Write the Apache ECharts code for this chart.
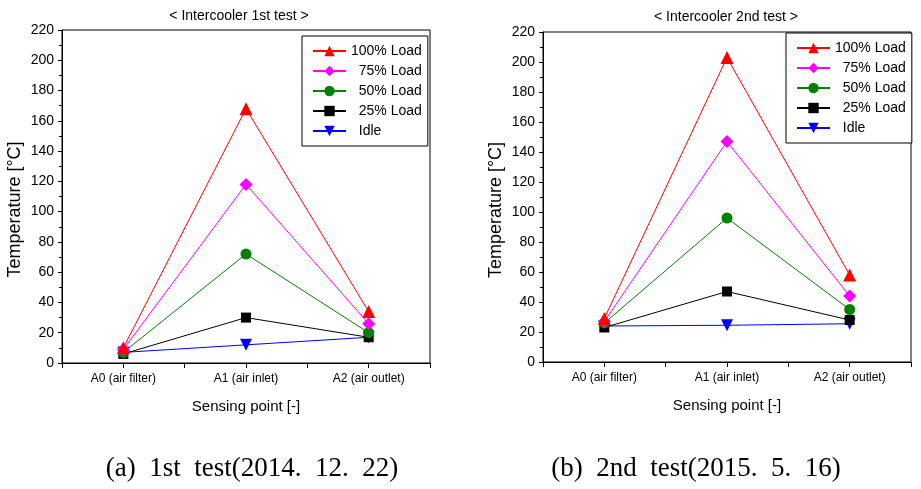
<!DOCTYPE html>
<html>
<head>
<meta charset="utf-8">
<script src="https://cdn.jsdelivr.net/npm/echarts@6/dist/echarts.min.js"></script>
<style>
html,body{margin:0;padding:0;background:#fff;}
#chart{width:921px;height:489px;}
</style>
</head>
<body>
<div id="chart"></div>
<script>
// ---- data ----
const categories = ['A0 (air filter)', 'A1 (air inlet)', 'A2 (air outlet)'];
const seriesNames = ['100% Load', '75% Load', '50% Load', '25% Load', 'Idle'];
const yTicks = { min: 0, max: 220, interval: 20 };

// 1st test (2014.12.22)
const test1Load100 = [10, 168, 34];
const test1Load75  = [9, 118, 26];
const test1Load50  = [7, 72, 20];
const test1Load25  = [6, 30, 17];
const test1Idle    = [7, 12, 17];

// 2nd test (2015.5.16)
const test2Load100 = [29, 203, 58];
const test2Load75  = [27, 147, 44];
const test2Load50  = [26, 96, 35];
const test2Load25  = [23, 47, 28];
const test2Idle    = [24, 24.5, 25.5];

const chartTitles = ['< Intercooler 1st test >', '< Intercooler 2nd test >'];
const captions = ['(a)  1st  test(2014.  12.  22)', '(b)  2nd  test(2015.  5.  16)'];

// ---- styles ----
const FONT = '"Liberation Sans", Arial, sans-serif';
const SERIF = '"Liberation Serif", "DejaVu Serif", serif';
const styles = [
  { color: '#ff0000', symbol: 'triangle', size: 13, rotate: 0, z: 7 },
  { color: '#ff00ff', symbol: 'diamond', size: 13, rotate: 0, z: 6 },
  { color: '#008000', symbol: 'circle', size: 11, rotate: 0, z: 5 },
  { color: '#000000', symbol: 'rect', size: 10, rotate: 0, z: 4 },
  { color: '#0000ff', symbol: 'triangle', size: 12, rotate: 180, z: 3 }
];

const grids = [
  { left: 62, top: 30, width: 368, height: 333 },
  { left: 543, top: 32, width: 368, height: 330 }
];

function xAxesFor(g) {
  return [
    {
      type: 'category', gridIndex: g, data: categories, boundaryGap: true, position: 'bottom',
      axisLine: { show: true, lineStyle: { color: '#000', width: 1 } },
      axisTick: { show: true, length: 5, lineStyle: { color: '#000' } },
      axisLabel: { color: '#000', fontSize: 12, fontFamily: FONT, margin: 10 },
      splitLine: { show: false },
      name: 'Sensing point [-]', nameLocation: 'middle', nameGap: 36,
      nameTextStyle: { color: '#000', fontSize: 15, fontFamily: FONT }
    },
    {
      type: 'category', gridIndex: g, data: categories, boundaryGap: true, position: 'bottom',
      axisLine: { show: false },
      axisTick: { show: true, alignWithLabel: true, length: 5, lineStyle: { color: '#000' } },
      axisLabel: { show: false },
      splitLine: { show: false }
    }
  ];
}

function yAxisFor(g) {
  return {
    type: 'value', gridIndex: g, min: yTicks.min, max: yTicks.max, interval: yTicks.interval,
    axisLine: { show: true, lineStyle: { color: '#000', width: 1 } },
    axisTick: { show: true, length: 4, lineStyle: { color: '#000' } },
    minorTick: { show: true, splitNumber: 2, length: 3, lineStyle: { color: '#000' } },
    splitLine: { show: false },
    minorSplitLine: { show: false },
    axisLabel: { color: '#000', fontSize: 14, fontFamily: FONT, margin: 8 },
    name: 'Temperature [°C]', nameLocation: 'middle', nameGap: 38,
    nameTextStyle: { color: '#000', fontSize: 18, fontFamily: FONT, padding: [0, 26, 0, 0] }
  };
}

function seriesFor(g, dataSets) {
  return dataSets.map((d, i) => ({
    type: 'line',
    name: seriesNames[i],
    xAxisIndex: g * 2,
    yAxisIndex: g,
    data: d,
    symbol: styles[i].symbol,
    symbolSize: styles[i].size,
    symbolRotate: styles[i].rotate,
    showAllSymbol: true,
    z: styles[i].z,
    lineStyle: { color: styles[i].color, width: 1 },
    itemStyle: { color: styles[i].color },
    emphasis: { disabled: true },
    animation: false
  }));
}

function legendFor(left, top) {
  return {
    orient: 'vertical', left: left, top: top,
    data: seriesNames,
    itemWidth: 33, itemHeight: 13, itemGap: 6,
    padding: [8, 6, 8, 10],
    borderColor: '#000', borderWidth: 1, borderRadius: 0,
    backgroundColor: '#fff',
    selectedMode: false,
    textStyle: { color: '#000', fontSize: 14, fontFamily: FONT },
    formatter: function (n) { return n === '100% Load' ? n : '  ' + n; }
  };
}

const chart = echarts.init(document.getElementById('chart'), null, { renderer: 'canvas' });
chart.setOption({
  backgroundColor: '#fff',
  animation: false,
  grid: grids.map(g => Object.assign({ show: true, borderColor: '#000', borderWidth: 1, backgroundColor: 'transparent' }, g)),
  xAxis: xAxesFor(0).concat(xAxesFor(1)),
  yAxis: [yAxisFor(0), yAxisFor(1)],
  legend: [legendFor(302, 36), legendFor(786, 33)],
  series: seriesFor(0, [test1Load100, test1Load75, test1Load50, test1Load25, test1Idle])
    .concat(seriesFor(1, [test2Load100, test2Load75, test2Load50, test2Load25, test2Idle])),
  graphic: [
    { type: 'text', x: 239, y: 16, style: { text: chartTitles[0], fill: '#000', font: '14px ' + FONT, textAlign: 'center', textVerticalAlign: 'middle' } },
    { type: 'text', x: 726, y: 17, style: { text: chartTitles[1], fill: '#000', font: '14px ' + FONT, textAlign: 'center', textVerticalAlign: 'middle' } },
    { type: 'text', x: 252, y: 469, style: { text: captions[0], fill: '#000', font: '27px ' + SERIF, textAlign: 'center', textVerticalAlign: 'middle' } },
    { type: 'text', x: 696, y: 469, style: { text: captions[1], fill: '#000', font: '27px ' + SERIF, textAlign: 'center', textVerticalAlign: 'middle' } }
  ]
});
</script>
</body>
</html>
